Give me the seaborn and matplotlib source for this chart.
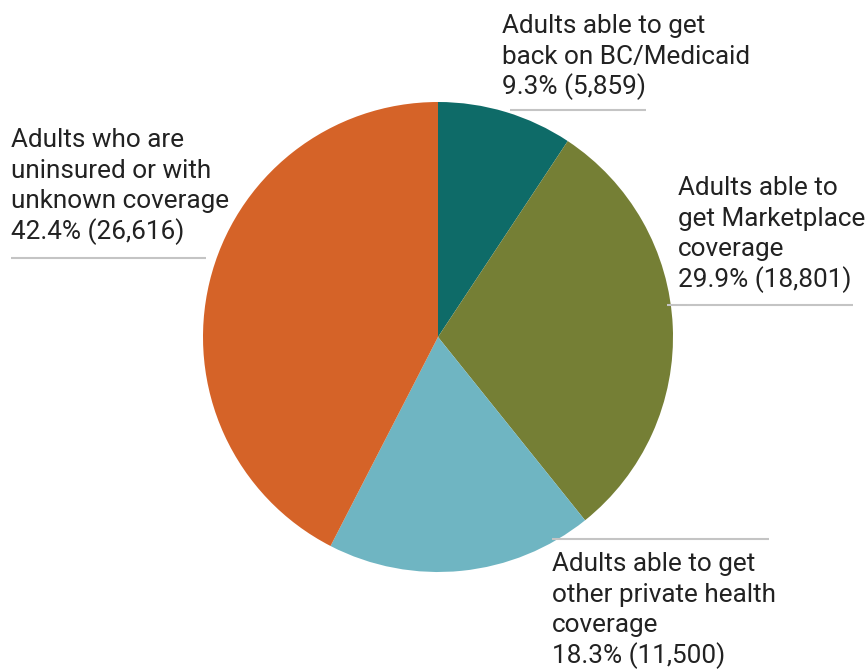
import matplotlib
matplotlib.use("Agg")
import matplotlib.pyplot as plt
import seaborn as sns

sns.set_theme(style="white")
plt.rcParams['font.family'] = ['Roboto', 'DejaVu Sans']

categories = [
    "Adults able to get\nback on BC/Medicaid",
    "Adults able to\nget Marketplace\ncoverage",
    "Adults able to get\nother private health\ncoverage",
    "Adults who are\nuninsured or with\nunknown coverage",
]
percents = [9.3, 29.9, 18.3, 42.4]
counts = ["5,859", "18,801", "11,500", "26,616"]
colors = ["#0e6b68", "#757f35", "#6fb5c2", "#d56328"]

W, H = 867, 669
fig = plt.figure(figsize=(W / 100, H / 100), dpi=100)
ax = fig.add_axes([0, 0, 1, 1])

ax.pie(percents, colors=colors, startangle=90, counterclock=False,
       center=(438, H - 337), radius=235,
       wedgeprops=dict(linewidth=0))
ax.set_xlim(0, W)
ax.set_ylim(0, H)
ax.set_aspect("equal")
ax.axis("off")

# label anchors: left x and first baseline (pixels from top), line pitch
label_pos = [(502, 33), (678, 195), (552, 571), (11, 147)]
pitch = 30.7
line_spans = [((510, 646), 110), ((667, 853), 305), ((552, 769), 539), ((11, 206), 258)]

for cat, p, c, (tx, ty), ((x0, x1), ly) in zip(categories, percents, counts, label_pos, line_spans):
    lines = cat.split("\n") + [f"{p}% ({c})"]
    for i, line in enumerate(lines):
        ax.text(tx, H - (ty + i * pitch), line, ha="left", va="baseline",
                fontsize=18.8, color="#222222")
    ax.plot([x0, x1], [H - ly, H - ly], color="#c4c4c4", linewidth=1.5,
            solid_capstyle="butt")

fig.savefig("out.png", dpi=100)
